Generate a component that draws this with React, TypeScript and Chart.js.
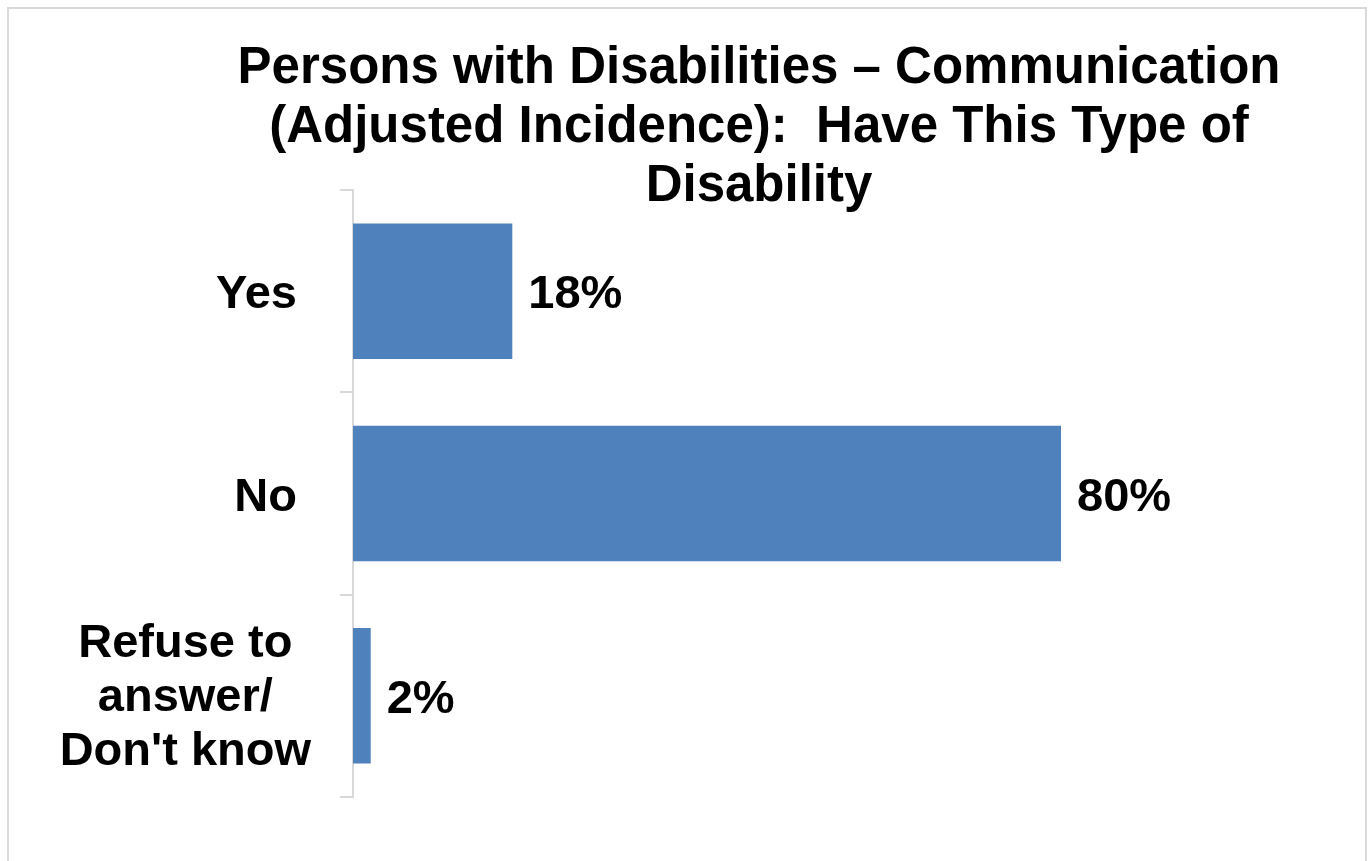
import React, { useEffect, useRef } from "react";
import { Chart, registerables } from "chart.js";

Chart.register(...registerables);

const titleLines = [
  "Persons with Disabilities \u2013 Communication",
  "(Adjusted Incidence):  Have This Type of",
  "Disability",
];
const categories = [["Yes"], ["No"], ["Refuse to", "answer/", "Don't know"]];
const values = [18, 80, 2];
const axisMax = 100;

const FONT = "'Liberation Sans', Arial, sans-serif";
const BAR_COLOR = "#4F81BD";

const overlay = {
  id: "overlay",
  afterDraw(chart: any) {
    const ctx = chart.ctx;
    ctx.save();
    ctx.fillStyle = "#000";
    // title
    ctx.font = `bold 51px ${FONT}`;
    ctx.textAlign = "center";
    ctx.textBaseline = "alphabetic";
    titleLines.forEach((t, i) => ctx.fillText(t, 759, 83 + i * 59));

    // category labels
    const yScale = chart.scales.y;
    const axisX = yScale.right;
    ctx.font = `bold 47px ${FONT}`;
    const lineH = 54;
    categories.forEach((lines, i) => {
      const cy = yScale.getPixelForValue(i);
      const widths = lines.map((l) => ctx.measureText(l).width);
      const blockW = Math.max(...widths);
      const right = axisX - (lines.length > 1 ? 42 : 56);
      const cx = right - blockW / 2;
      ctx.textAlign = "center";
      ctx.textBaseline = "alphabetic";
      const n = lines.length;
      lines.forEach((l, j) => {
        const base = cy + 17 + (j - (n - 1) / 2) * lineH - (n > 1 ? 2 : 0);
        ctx.fillText(l, cx, base);
      });
    });

    // data labels
    const meta = chart.getDatasetMeta(0);
    ctx.textAlign = "left";
    ctx.textBaseline = "alphabetic";
    meta.data.forEach((bar: any, i: number) => {
      ctx.fillText(values[i] + "%", bar.x + 16, bar.y + 17);
    });
    ctx.restore();
  },
};

export default function App() {
  const ref = useRef<HTMLCanvasElement>(null);
  useEffect(() => {
    if (!ref.current) return;
    const chart = new Chart(ref.current, {
      type: "bar",
      data: {
        labels: categories.map((c) => c.join(" ")),
        datasets: [
          {
            data: values,
            backgroundColor: BAR_COLOR,
            borderWidth: 0,
            barPercentage: 1,
            categoryPercentage: 0.67,
          },
        ],
      },
      options: {
        indexAxis: "y",
        animation: false,
        responsive: false,
        maintainAspectRatio: false,
        layout: { padding: { top: 190, bottom: 64, left: 340, right: 131 } },
        plugins: {
          legend: { display: false },
          title: { display: false },
          tooltip: { enabled: false },
        },
        scales: {
          x: { display: false, min: 0, max: axisMax },
          y: {
            display: true,
            offset: true,
            grid: {
              offset: true,
              drawOnChartArea: false,
              drawTicks: true,
              tickLength: 13,
              color: "#d9d9d9",
              lineWidth: 2,
            },
            border: { display: true, color: "#d9d9d9", width: 2 },
            ticks: { display: false },
          },
        },
      },
      plugins: [overlay],
    });
    return () => chart.destroy();
  }, []);
  return (
    <div style={{ position: "fixed", left: 0, top: 0, width: 1369, height: 861, overflow: "hidden", background: "#fff" }}>
      <canvas ref={ref} width={1369} height={861} style={{ position: "absolute", left: 0, top: 0 }} />
      <div
        style={{
          position: "absolute",
          left: 7,
          top: 7,
          width: 1356,
          height: 900,
          border: "2px solid #d9d9d9",
          pointerEvents: "none",
        }}
      />
    </div>
  );
}
